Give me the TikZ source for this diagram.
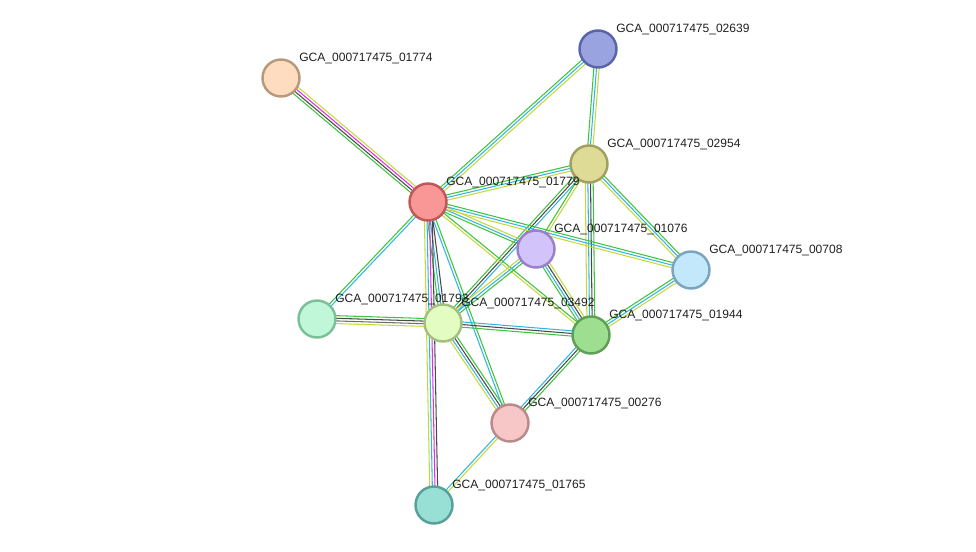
\documentclass[tikz,border=0pt]{standalone}
\usepackage{fontspec}
\usetikzlibrary{calc}
\newfontfamily\lblfont{Liberation Sans}

\definecolor{sgreen}{HTML}{3DC43D}
\definecolor{sblue}{HTML}{33B7E0}
\definecolor{syellow}{HTML}{C4DA3A}
\definecolor{sblack}{HTML}{4A4A4A}
\definecolor{sgray}{HTML}{6E6E6E}
\definecolor{smagenta}{HTML}{E030E0}

\definecolor{fill02639}{HTML}{99A3E0}\definecolor{line02639}{HTML}{5A64A8}
\definecolor{fill01774}{HTML}{FDDCBF}\definecolor{line01774}{HTML}{B89A7A}
\definecolor{fill02954}{HTML}{DEDB96}\definecolor{line02954}{HTML}{A0A060}
\definecolor{fill01779}{HTML}{F99797}\definecolor{line01779}{HTML}{C05858}
\definecolor{fill01076}{HTML}{D3C3FB}\definecolor{line01076}{HTML}{9A80C8}
\definecolor{fill00708}{HTML}{C4E8FB}\definecolor{line00708}{HTML}{7AA4C0}
\definecolor{fill01793}{HTML}{C0F7D8}\definecolor{line01793}{HTML}{7CC09A}
\definecolor{fill03492}{HTML}{E2FCC2}\definecolor{line03492}{HTML}{A4C080}
\definecolor{fill01944}{HTML}{9EDE90}\definecolor{line01944}{HTML}{5EA056}
\definecolor{fill00276}{HTML}{F7C6C6}\definecolor{line00276}{HTML}{B88A8A}
\definecolor{fill01765}{HTML}{98DFD6}\definecolor{line01765}{HTML}{58A098}

\pgfdeclarelayer{bg}
\pgfsetlayers{bg,main}

\tikzset{
    protein/.style={circle, draw=line#1, fill=fill#1, line width=1.4pt, minimum size=0.74cm, inner sep=0pt},
    lbl/.style={anchor=west, inner sep=0pt, text=black!88, font=\lblfont\fontsize{6.85pt}{7pt}\selectfont},
    edge/.style={line width=0.6pt}
}

% one line per evidence colour, side by side
\newcommand{\linkup}[3]{%
    \begin{pgfonlayer}{bg}
    \foreach \c [count=\i] in {#3} {\xdef\nlines{\i}}
    \foreach \c [count=\i] in {#3} {
        \pgfmathsetmacro\off{(\i-(\nlines+1)/2)*1.5}
        \draw [edge,\c] ($(#1)!\off pt!90:(#2)$) -- ($(#2)!\off pt!-90:(#1)$);
    }
    \end{pgfonlayer}}

\begin{document}
\begin{tikzpicture}[x=0.02cm, y=-0.02cm]
                \useasboundingbox (0,0) rectangle (976,551);
                \node [protein=02639] (p02639) at (598,49) {};
                \node [protein=01774] (p01774) at (281,78) {};
                \node [protein=02954] (p02954) at (589,164) {};
                \node [protein=01779] (p01779) at (428,202) {};
                \node [protein=01076] (p01076) at (536,249) {};
                \node [protein=00708] (p00708) at (691,270) {};
                \node [protein=01793] (p01793) at (317,319) {};
                \node [protein=03492] (p03492) at (443,323) {};
                \node [protein=01944] (p01944) at (591,335) {};
                \node [protein=00276] (p00276) at (510,423) {};
                \node [protein=01765] (p01765) at (434,505) {};
                \foreach \p in {02639,01774,02954,01779,01076,00708,01793,03492,01944,00276,01765}
                    \node [lbl] (t\p) at ([shift={(18,-20)}]p\p) {GCA\_000717475\_\p};
                \linkup{p01774}{p01779}{sgreen,sblack,smagenta,syellow}
                \linkup{p02639}{p01779}{sgreen,sblue,syellow}
                \linkup{p02639}{p02954}{sgreen,sblue,syellow}
                \linkup{p02954}{p01779}{sgreen,sblue,syellow}
                \linkup{p02954}{p03492}{sgreen,sblack,sblue}
                \linkup{p02954}{p01076}{sgreen,syellow}
                \linkup{p02954}{p00708}{syellow,sblue,sgreen}
                \linkup{p02954}{p01944}{syellow,sblue,sblack,sgreen}
                \linkup{p01779}{p01076}{sgreen,sblue,syellow}
                \linkup{p01779}{p00708}{syellow,sblue,sgreen}
                \linkup{p01779}{p01944}{syellow,sgreen}
                \linkup{p01779}{p03492}{sgreen,sblue,sblack}
                \linkup{p01779}{p01765}{syellow,sblue,smagenta,sblack}
                \linkup{p01779}{p00276}{sblue,sgreen}
                \linkup{p01779}{p01793}{sgreen,sblue}
                \linkup{p01076}{p03492}{syellow,sblue,sgreen}
                \linkup{p01076}{p01944}{sgreen,sblue,sblack,syellow}
                \linkup{p00708}{p01944}{sgreen,sblue,syellow}
                \linkup{p01793}{p03492}{syellow,sgray,sblack,sgreen}
                \linkup{p03492}{p01944}{sgreen,sblack,sblue}
                \linkup{p03492}{p00276}{syellow,sblue,sblack,sgreen}
                \linkup{p01944}{p00276}{sblue,sblack,sgreen}
                \linkup{p00276}{p01765}{sblue,syellow}
            \end{tikzpicture}
\end{document}
